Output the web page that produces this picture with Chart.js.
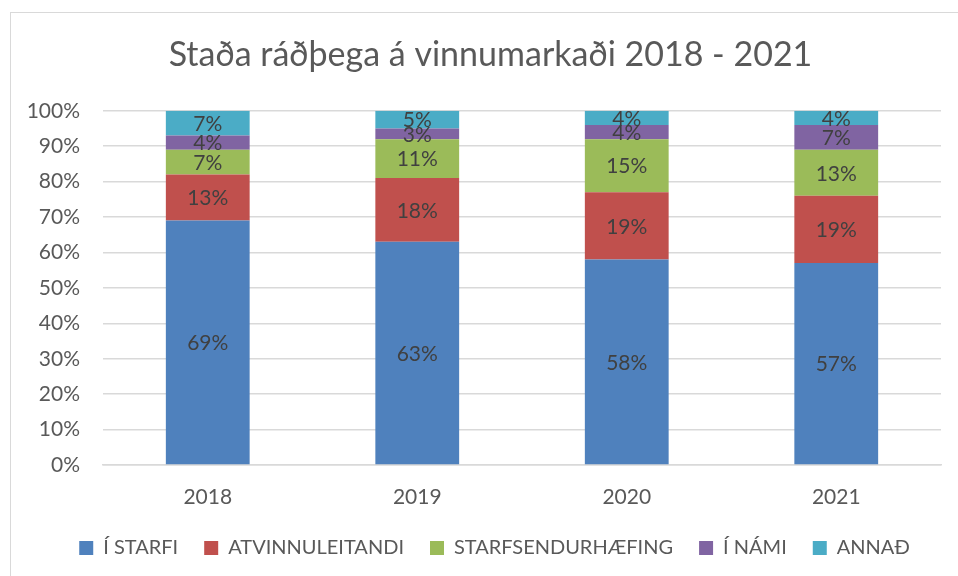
<!DOCTYPE html>
<html><head><meta charset="utf-8">
<script src="https://cdn.jsdelivr.net/npm/chart.js@4"></script>
<style>
html,body{margin:0;padding:0;background:#fff}
#wrap{position:relative;width:958px;height:576px;overflow:hidden}
#frame{position:absolute;left:10px;top:12px;right:-2px;bottom:-2px;border-left:1px solid #d9d9d9;border-top:1px solid #d9d9d9}
canvas{position:absolute;left:0;top:0}
</style></head>
<body>
<div id="wrap"><div id="frame"></div><canvas id="c" width="958" height="576"></canvas></div>
<script>
const categories = ['2018', '2019', '2020', '2021'];
const seriesNames = ['Í STARFI', 'ATVINNULEITANDI', 'STARFSENDURHÆFING', 'Í NÁMI', 'ANNAÐ'];
const iStarfi = [69, 63, 58, 57];
const atvinnuleitandi = [13, 18, 19, 19];
const starfsendurhaefing = [7, 11, 15, 13];
const iNami = [4, 3, 4, 7];
const annad = [7, 5, 4, 4];
const colors = ['#4F81BD', '#C0504D', '#9BBB59', '#8064A2', '#4BACC6'];
const titleText = 'Staða ráðþega á vinnumarkaði 2018 - 2021';
const FONT = 'Lato';

const seriesValues = [iStarfi, atvinnuleitandi, starfsendurhaefing, iNami, annad];

const labelPlugin = {
  id: 'segLabels',
  afterLayout(chart) {
    const lg = chart.legend;
    if (lg) { lg.left += 24; lg.right += 24; }
    const tb = chart.titleBlock;
    if (tb) { tb.left += 20; tb.right += 20; }
  },
  afterDatasetsDraw(chart) {
    const ctx = chart.ctx;
    ctx.save();
    ctx.font = '21px ' + FONT;
    ctx.fillStyle = '#404040';
    ctx.textAlign = 'center';
    ctx.textBaseline = 'middle';
    chart.data.datasets.forEach((ds, i) => {
      const meta = chart.getDatasetMeta(i);
      meta.data.forEach((el, j) => {
        const v = ds.data[j];
        const y = (el.y + el.base) / 2;
        ctx.fillText(v + '%', el.x, y + 1);
      });
    });
    ctx.restore();
  }
};

new Chart(document.getElementById('c'), {
  type: 'bar',
  data: {
    labels: categories,
    datasets: seriesNames.map((n, i) => ({
      label: n,
      data: seriesValues[i],
      backgroundColor: colors[i],
      borderWidth: 0,
      barPercentage: 0.4,
      categoryPercentage: 1.0
    }))
  },
  options: {
    responsive: false,
    animation: false,
    layout: { padding: { left: 0, right: 17, top: 12, bottom: 8 } },
    plugins: {
      title: {
        display: true, text: titleText, color: '#595959',
        font: { family: FONT, size: 34, weight: 'normal' },
        padding: { top: 23, bottom: 35 }
      },
      legend: {
        position: 'bottom',
        labels: {
          color: '#595959', boxWidth: 14, boxHeight: 14, padding: 26,
          font: { family: FONT, size: 20 }
        }
      },
      tooltip: { enabled: false }
    },
    scales: {
      x: {
        stacked: true,
        afterFit(s) { s.height = 47; },
        grid: { display: false, drawTicks: false },
        border: { display: true, color: '#D9D9D9', width: 1.5 },
        ticks: { color: '#595959', font: { family: FONT, size: 21 }, padding: 20 }
      },
      y: {
        stacked: true, min: 0, max: 100,
        afterFit(s) { s.width = 103; },
        grid: { color: '#D9D9D9', lineWidth: 1.5, drawTicks: false },
        border: { display: false },
        ticks: { stepSize: 10, color: '#595959', font: { family: FONT, size: 21 }, padding: 23,
          callback: v => v + '%' }
      }
    }
  },
  plugins: [labelPlugin]
});
</script>
</body></html>
